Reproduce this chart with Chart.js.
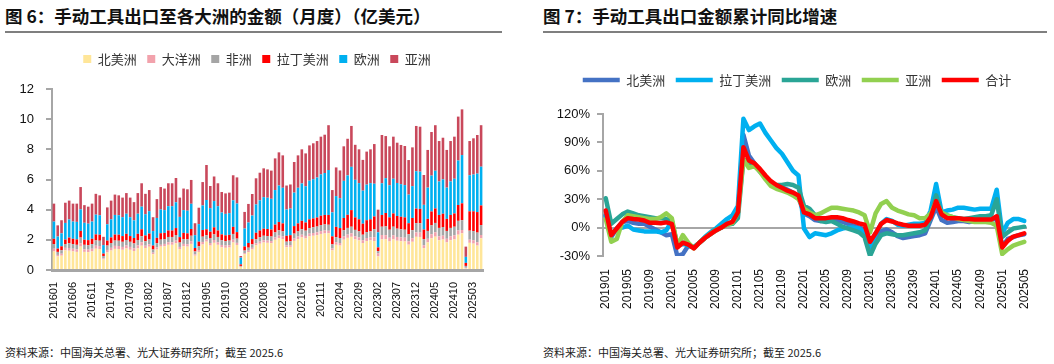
<!DOCTYPE html>
<html><head><meta charset="utf-8">
<script src="https://cdn.jsdelivr.net/npm/chart.js@4.4.1/dist/chart.umd.min.js"></script>
<style>
html,body{margin:0;padding:0;background:#fff;}
body{width:1054px;height:364px;position:relative;overflow:hidden;font-family:"Noto Sans CJK SC",sans-serif;}
.t{position:absolute;font-weight:bold;font-size:17.5px;line-height:20px;color:#111;white-space:nowrap;}
.r{position:absolute;height:2px;background:#7f7f7f;}
.f{position:absolute;font-size:11px;line-height:14px;color:#222;white-space:nowrap;}
canvas{position:absolute;}
</style></head>
<body>
<div class="t" style="left:5px;top:6px;">图 6：手动工具出口至各大洲的金额（月度）（亿美元）</div>
<div class="r" style="left:5px;top:31px;width:497px;"></div>
<div class="t" style="left:543px;top:6px;">图 7：手动工具出口金额累计同比增速</div>
<div class="r" style="left:543px;top:31px;width:504px;"></div>
<canvas id="c1" width="520" height="290" style="left:0px;top:42px;"></canvas>
<canvas id="c2" width="519" height="255" style="left:535px;top:63px;"></canvas>
<div class="f" style="left:5px;top:345px;">资料来源：中国海关总署、光大证券研究所；截至 2025.6</div>
<div class="f" style="left:543px;top:345px;">资料来源：中国海关总署、光大证券研究所；截至 2025.6</div>
<script>
// ---------- Figure 6: monthly export value by continent (100M USD) ----------
const months6 = [
'201601','201602','201603','201604','201605','201606','201607','201608','201609','201610','201611','201612',
'201701','201702','201703','201704','201705','201706','201707','201708','201709','201710','201711','201712',
'201801','201802','201803','201804','201805','201806','201807','201808','201809','201810','201811','201812',
'201901','201902','201903','201904','201905','201906','201907','201908','201909','201910','201911','201912',
'202001','202002','202003','202004','202005','202006','202007','202008','202009','202010','202011','202012',
'202101','202102','202103','202104','202105','202106','202107','202108','202109','202110','202111','202112',
'202201','202202','202203','202204','202205','202206','202207','202208','202209','202210','202211','202212',
'202301','202302','202303','202304','202305','202306','202307','202308','202309','202310','202311','202312',
'202401','202402','202403','202404','202405','202406','202407','202408','202409','202410','202411','202412',
'202501','202502','202503','202504','202505'];
const northAmerica = [1.23,0.90,0.95,1.30,1.28,1.23,1.20,1.55,1.20,1.18,1.23,1.41,1.39,0.70,1.16,1.29,1.40,1.39,1.34,1.43,1.34,1.26,1.43,1.61,
1.46,1.54,1.05,1.36,1.55,1.57,1.67,1.67,1.77,1.39,1.57,1.55,1.73,0.95,1.20,1.69,1.88,1.62,1.80,1.67,1.50,1.47,1.49,1.82,
1.66,0.20,1.04,1.18,1.36,1.64,1.74,1.82,1.80,1.78,2.00,2.11,2.05,1.51,1.53,1.93,2.05,2.16,2.09,2.23,2.27,2.31,2.39,2.42,
2.43,1.30,1.67,1.62,2.01,2.13,2.20,2.03,1.96,1.79,1.92,1.96,
1.92,0.90,2.03,2.04,1.89,2.03,1.94,1.91,1.89,1.68,1.87,2.20,2.19,1.45,1.83,2.10,2.21,1.97,2.02,1.83,1.97,2.03,2.34,2.43,
0.10,1.80,1.75,1.62,2.10];
const oceania = [0.18,0.10,0.13,0.17,0.18,0.18,0.17,0.22,0.17,0.17,0.18,0.20,0.20,0.08,0.17,0.18,0.20,0.20,0.19,0.20,0.19,0.18,0.20,0.23,
0.15,0.16,0.10,0.14,0.12,0.16,0.17,0.17,0.18,0.14,0.16,0.16,0.18,0.09,0.12,0.17,0.15,0.17,0.19,0.17,0.16,0.15,0.15,0.19,
0.14,0.02,0.08,0.10,0.11,0.13,0.14,0.15,0.15,0.14,0.16,0.17,0.17,0.12,0.12,0.16,0.17,0.18,0.17,0.18,0.18,0.19,0.19,0.20,
0.17,0.13,0.17,0.17,0.21,0.22,0.23,0.21,0.20,0.18,0.20,0.20,
0.25,0.20,0.29,0.27,0.25,0.27,0.25,0.25,0.25,0.22,0.24,0.29,0.29,0.19,0.24,0.27,0.29,0.26,0.26,0.24,0.26,0.27,0.28,0.22,
0.05,0.21,0.22,0.22,0.22];
const africa = [0.31,0.20,0.23,0.25,0.32,0.31,0.30,0.38,0.30,0.29,0.31,0.35,0.35,0.15,0.29,0.32,0.35,0.35,0.34,0.36,0.34,0.32,0.36,0.40,
0.30,0.32,0.21,0.28,0.34,0.32,0.35,0.35,0.37,0.29,0.32,0.32,0.36,0.19,0.25,0.35,0.27,0.33,0.37,0.35,0.31,0.30,0.31,0.38,
0.28,0.05,0.17,0.20,0.23,0.27,0.29,0.30,0.30,0.30,0.33,0.35,0.34,0.25,0.26,0.32,0.34,0.36,0.35,0.37,0.38,0.38,0.40,0.40,
0.40,0.27,0.34,0.33,0.41,0.44,0.44,0.42,0.40,0.37,0.39,0.40,
0.54,0.15,0.55,0.58,0.53,0.57,0.55,0.54,0.53,0.47,0.53,0.62,0.62,0.41,0.52,0.59,0.62,0.56,0.57,0.52,0.56,0.57,0.64,0.65,
0.12,0.60,0.61,0.64,0.66];
const latinAmerica = [0.35,0.22,0.26,0.30,0.37,0.35,0.36,0.44,0.34,0.34,0.35,0.40,0.40,0.16,0.33,0.37,0.40,0.40,0.38,0.41,0.38,0.36,0.41,0.46,
0.38,0.40,0.26,0.35,0.43,0.41,0.43,0.43,0.46,0.36,0.41,0.40,0.45,0.23,0.31,0.44,0.40,0.42,0.47,0.43,0.39,0.38,0.38,0.47,
0.43,0.10,0.27,0.31,0.35,0.43,0.45,0.47,0.47,0.46,0.52,0.55,0.53,0.39,0.40,0.50,0.53,0.56,0.54,0.58,0.59,0.60,0.62,0.63,
0.65,0.53,0.68,0.66,0.82,0.87,1.10,0.83,0.80,0.73,0.79,0.80,
0.84,0.25,0.78,0.89,0.82,0.88,0.84,0.83,0.82,0.73,0.81,0.96,0.95,0.63,0.80,0.92,0.96,0.86,0.88,0.80,0.86,0.88,1.05,1.12,
0.20,1.28,1.31,1.36,1.30];
const europe = [1.14,0.80,0.86,1.10,1.20,1.14,1.16,1.43,1.12,1.09,1.14,1.31,1.29,0.56,1.08,1.20,1.30,1.29,1.25,1.33,1.25,1.17,1.33,1.50,
1.41,1.48,0.96,1.32,1.57,1.51,1.61,1.61,1.71,1.34,1.51,1.50,1.67,0.85,1.16,1.63,1.94,1.56,1.74,1.61,1.45,1.42,1.44,1.76,
1.90,0.45,1.19,1.36,1.56,1.88,2.00,2.09,2.07,2.04,2.29,2.42,2.36,1.74,1.76,2.22,2.36,2.48,2.40,2.56,2.60,2.65,2.74,2.78,
2.98,1.59,2.04,1.98,2.46,2.61,2.87,2.49,2.40,2.19,2.36,2.40,
2.17,1.00,2.10,2.31,2.13,2.30,2.19,2.16,2.14,1.90,2.11,2.48,2.47,1.64,2.07,2.38,2.50,2.22,2.28,2.07,2.22,2.30,2.95,3.20,
0.40,2.39,2.44,2.55,2.57];
const asia = [1.19,0.74,0.87,1.34,1.25,1.19,1.21,1.48,1.17,1.13,1.19,1.38,1.32,0.55,1.12,1.24,1.35,1.32,1.30,1.37,1.30,1.21,1.37,1.55,
1.35,1.40,0.92,1.25,1.49,1.43,1.52,1.52,1.61,1.28,1.43,1.42,1.58,0.79,1.09,1.55,2.32,1.47,1.63,1.52,1.36,1.36,1.36,1.66,
1.73,0.11,1.10,1.23,1.43,1.73,1.83,1.91,1.88,1.87,2.10,2.20,2.15,1.59,1.60,2.03,2.15,2.26,2.18,2.34,2.38,2.42,2.50,2.54,
2.97,1.48,1.90,1.84,2.29,2.43,2.71,2.32,2.24,2.04,2.19,2.24,
2.63,1.50,3.20,2.79,2.58,2.79,2.67,2.60,2.59,2.29,2.57,3.00,2.98,1.98,2.50,2.89,3.02,2.68,2.76,2.50,2.68,2.79,2.91,3.03,
0.68,2.27,2.40,2.56,2.75];
const yTicks6 = [0,2,4,6,8,10,12];

// ---------- Figure 7: cumulative YoY growth (%) ----------
const months7 = [
'201901','201902','201903','201904','201905','201906','201907','201908','201909','201910','201911','201912',
'202001','202002','202003','202004','202005','202006','202007','202008','202009','202010','202011','202012',
'202101','202102','202103','202104','202105','202106','202107','202108','202109','202110','202111','202112',
'202201','202202','202203','202204','202205','202206','202207','202208','202209','202210','202211','202212',
'202301','202302','202303','202304','202305','202306','202307','202308','202309','202310','202311','202312',
'202401','202402','202403','202404','202405','202406','202407','202408','202409','202410','202411','202412',
'202501','202502','202503','202504','202505'];
const yoyNorthAmerica = [13,-10,-1,6,7,5,4,4,1,-2,-5,-8, -7,-30,-28,-19,-21,-16,-11,-7,-3,0,4,6, 16,98,76,68,59,53,47,44,42,40,37,32, 15,12,8,7,8,8,8,6,4,2,0,-2, -17,-10,-4,-2,-5,-9,-11,-10,-9,-8,-6,8, 22,8,5,6,7,7,6,7,7,8,8,10, -20,-12,-10,-8,-7];
const yoyLatinAmerica = [12,-7,-1,0,2,-2,-3,-4,-4,-4,-5,-3, 7,-19,-17,-19,-21,-16,-10,-5,-1,4,9,13, 23,115,103,107,110,100,92,84,78,69,60,55, -1,-10,-6,-7,-8,-6,-3,-1,0,0,-1,-5, -21,-7,4,9,7,3,2,3,4,4,5,18, 46,16,18,19,21,21,20,19,20,20,20,40, -6,5,9,9,7];
const yoyEurope = [31,4,9,14,17,15,13,12,11,10,10,9, 7,-19,-16,-18,-21,-16,-11,-6,-2,0,3,4, 10,72,69,66,60,53,46,45,45,46,45,42, 23,20,13,7,6,7,4,1,-1,-3,-5,-10, -30,-17,-8,-6,-7,-8,-8,-7,-6,-5,-3,11, 34,14,13,11,10,9,10,11,12,12,13,30, -10,-5,-1,0,1];
const yoyAsia = [9,-15,-12,6,13,12,11,10,9,9,11,15, 10,-19,-8,-16,-22,-16,-11,-7,-3,0,3,5, 16,72,63,65,59,51,44,41,39,37,34,30, 20,16,13,15,18,21,21,20,19,18,16,13, -5,15,25,28,21,18,16,14,13,10,10,15, 27,16,13,11,9,8,7,6,6,6,5,2, -28,-23,-19,-17,-15];
const yoyTotal = [18,-8,-1,6,10,9,8.5,7.5,5,5,4.5,5.5, 4,-21,-16,-18,-22,-16,-11,-7,-3,0,4,6, 16,85,71,68,62,55,49,45,42,39,37,34, 16,14,10,10,10,11,11,10,8,6.5,4.5,3, -15,-6,4,8,6.5,4.5,3,2,2,2,3,11, 28,14,10,10,10,9,9,8.5,8.5,8.5,8.5,12, -21,-14,-9.5,-8,-6];
const yTicks7 = [-30,0,30,60,90,120];

// ---------- drawing ----------
const CJK = '"Noto Sans CJK SC", sans-serif';
const NUM = '"Liberation Sans", Arial, sans-serif';
const AXIS = '#A6A6A6';
// adds vertical room under the legend and shifts it sideways
function legendTweak(extra, dx){
  return {id:'legendTweak',
    beforeInit(chart){
      const fit = chart.legend.fit;
      chart.legend.fit = function(){ fit.bind(chart.legend)(); this.height += extra; };
    },
    afterLayout(chart){ chart.legend.left += dx; chart.legend.right += dx; }
  };
}

new Chart(document.getElementById('c1'), {
  type:'bar',
  data:{labels:months6, datasets:[
    {label:'北美洲', data:northAmerica, backgroundColor:'#FFE699'},
    {label:'大洋洲', data:oceania, backgroundColor:'#F2A2AC'},
    {label:'非洲', data:africa, backgroundColor:'#A5A5A5'},
    {label:'拉丁美洲', data:latinAmerica, backgroundColor:'#FF0000'},
    {label:'欧洲', data:europe, backgroundColor:'#00B0F0'},
    {label:'亚洲', data:asia, backgroundColor:'#C9485B'}
  ]},
  options:{
    responsive:false, animation:false, devicePixelRatio:1,
    layout:{padding:{left:0, right:37, top:0, bottom:0}},
    datasets:{bar:{barPercentage:0.68, categoryPercentage:1.0, borderWidth:0}},
    plugins:{
      legend:{labels:{boxWidth:8, boxHeight:8, padding:10.5, color:'#333', font:{size:13, family:CJK}}},
      tooltip:{enabled:false}
    },
    scales:{
      x:{stacked:true, offset:true,
         grid:{display:false},
         border:{display:true, color:AXIS, width:3},
         ticks:{autoSkip:false, minRotation:90, maxRotation:90, padding:4, color:'#111',
                font:{size:11, family:NUM},
                callback:(v,i)=> (i%5===0 ? months6[i] : null)},
         afterFit:(s)=>{ s.height = 62; }},
      y:{stacked:true, min:0, max:12,
         afterBuildTicks:(s)=>{ s.ticks = yTicks6.map(v=>({value:v})); },
         grid:{display:true, drawOnChartArea:false, drawTicks:true, tickLength:6, color:AXIS, lineWidth:2},
         border:{display:true, color:AXIS, width:2},
         ticks:{padding:12, color:'#111', font:{size:13, family:NUM}},
         afterFit:(s)=>{ s.width = 52; }}
    }
  },
  plugins:[legendTweak(13.5, 15.5)]
});

new Chart(document.getElementById('c2'), {
  type:'line',
  data:{labels:months7, datasets:[
    {label:'北美洲', data:yoyNorthAmerica, borderColor:'#4472C4', order:4},
    {label:'拉丁美洲', data:yoyLatinAmerica, borderColor:'#00B0F0', order:3},
    {label:'欧洲', data:yoyEurope, borderColor:'#2AA596', order:2},
    {label:'亚洲', data:yoyAsia, borderColor:'#92D050', order:1},
    {label:'合计', data:yoyTotal, borderColor:'#FF0000', order:0}
  ]},
  options:{
    responsive:false, animation:false, devicePixelRatio:1,
    layout:{padding:{left:0, right:27, top:0, bottom:0}},
    datasets:{line:{borderWidth:4.5, pointRadius:0, tension:0, fill:false, borderCapStyle:'round', borderJoinStyle:'round', backgroundColor:'transparent'}},
    plugins:{
      legend:{labels:{usePointStyle:true, pointStyle:'line', pointStyleWidth:37, boxHeight:13, padding:10.5, color:'#333',
                      font:{size:13, family:CJK}, sort:(a,b)=>a.datasetIndex-b.datasetIndex}},
      tooltip:{enabled:false}
    },
    scales:{
      x:{offset:true,
         grid:{display:false},
         border:{display:false},
         ticks:{autoSkip:false, minRotation:90, maxRotation:90, padding:5, color:'#111',
                font:{size:12, family:NUM},
                callback:(v,i)=> (i%4===0 ? months7[i] : null)},
         afterFit:(s)=>{ s.height = 62; }},
      y:{min:-30, max:120,
         afterBuildTicks:(s)=>{ s.ticks = yTicks7.map(v=>({value:v})); },
         grid:{display:true, drawOnChartArea:true, drawTicks:true, tickLength:6, lineWidth:2,
               color:(c)=> (c.tick && c.tick.value===0 ? AXIS : 'rgba(0,0,0,0)'), tickColor:AXIS},
         border:{display:true, color:AXIS, width:2},
         ticks:{padding:7, color:'#111', font:{size:13, family:NUM}, callback:(v)=> v+'%'},
         afterFit:(s)=>{ s.width = 68; }}
    }
  },
  plugins:[legendTweak(17.5, 16)]
});
</script>
</body></html>
